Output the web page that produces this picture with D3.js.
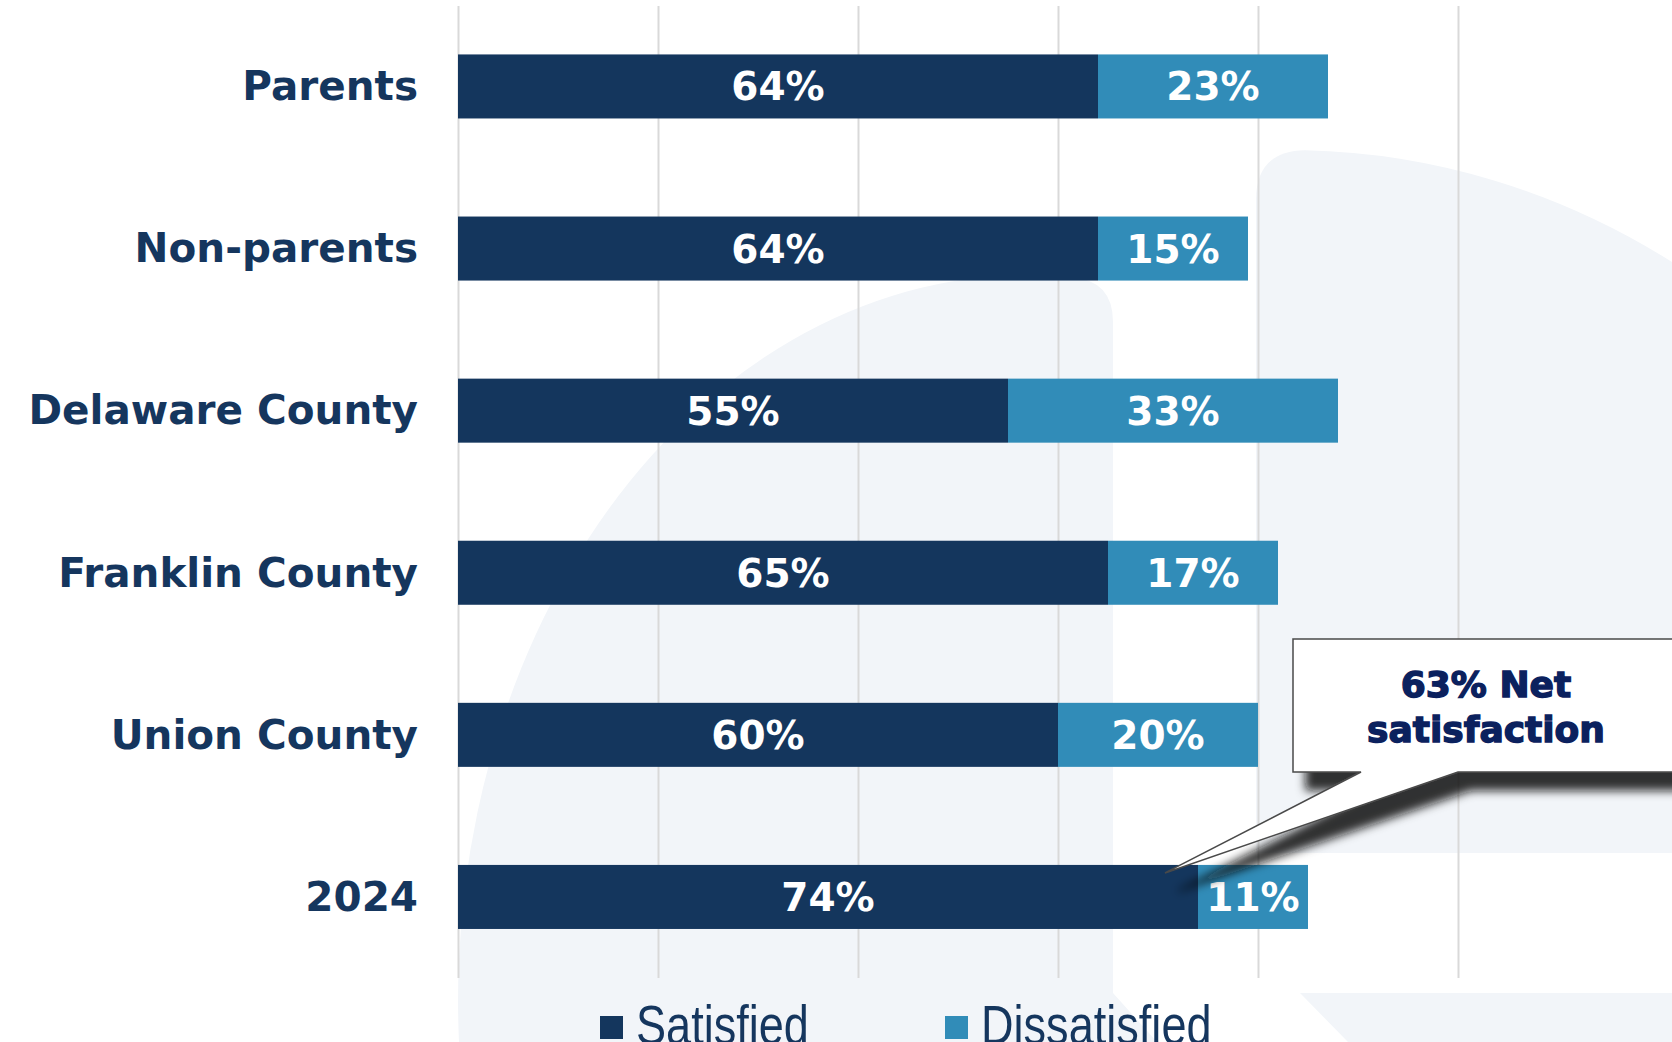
<!DOCTYPE html>
<html>
<head>
<meta charset="utf-8">
<script src="https://cdn.jsdelivr.net/npm/d3@7"></script>
<style>
  html, body { margin: 0; padding: 0; background: #ffffff; }
  svg { display: block; }
</style>
</head>
<body>
<div id="chart"></div>
<script>
// ---------- data ----------
const categories = ["Parents", "Non-parents", "Delaware County", "Franklin County", "Union County", "2024"];
const satisfied = [64, 64, 55, 65, 60, 74];
const dissatisfied = [23, 15, 33, 17, 20, 11];
const seriesNames = ["Satisfied", "Dissatisfied"];
const xTicks = [0, 20, 40, 60, 80, 100];
const calloutLines = ["63% Net", "satisfaction"];
const calloutTarget = { category: "2024", value: 70.7 };

// ---------- layout ----------
const W = 1672, H = 1042;
const colors = { Satisfied: "#14365D", Dissatisfied: "#318CB8" };
const labelColor = "#15365E";
const pale = "#F2F5F9";

const svg = d3.select("#chart").append("svg")
  .attr("width", W).attr("height", H)
  .attr("viewBox", `0 0 ${W} ${H}`);

const defs = svg.append("defs");
const f = defs.append("filter").attr("id", "shadow")
  .attr("x", "-20%").attr("y", "-20%").attr("width", "160%").attr("height", "180%");
f.append("feDropShadow").attr("dx", 13).attr("dy", 18).attr("stdDeviation", 5)
  .attr("flood-color", "#111").attr("flood-opacity", 0.85);

// ---------- background decoration ----------
const bg = svg.append("g");
bg.append("path").attr("fill", pale)
  .attr("d", "M459,1042 A570,725 0 0 1 1073,277.3 Q1113,281 1113,322 L1113,993 L1157,1042 Z");
bg.append("path").attr("fill", pale)
  .attr("d", "M1256,853 L1256,200 Q1256,151 1305,150.2 A770,850 0 0 1 1672,262 L1672,853 Z");
bg.append("path").attr("fill", pale)
  .attr("d", "M1300,993 L1672,993 L1672,1042 L1348,1042 Z");

// ---------- scales ----------
const x = d3.scaleLinear().domain([0, 100]).range([458, 1458]);
const y = d3.scaleBand().domain(categories).range([5.4, 978])
  .paddingInner(0.605).paddingOuter(0.3025);

// gridlines
const grid = svg.append("g").attr("transform", "translate(0,6)")
  .call(d3.axisTop(x).tickValues(xTicks).tickSize(-972).tickFormat(""));
grid.select(".domain").remove();
grid.selectAll(".tick line").attr("stroke", "#D9D9D9").attr("stroke-width", 2);

// category axis
const yAxis = svg.append("g").attr("transform", `translate(${x(0)},0)`)
  .call(d3.axisLeft(y).tickSize(0).tickPadding(40));
yAxis.select(".domain").remove();
yAxis.selectAll(".tick text")
  .attr("fill", labelColor)
  .attr("font-family", "'DejaVu Sans', sans-serif")
  .attr("font-weight", 700)
  .attr("font-size", "40.5px")
  .attr("dy", "0.34em");

// stacked bars
const rows = categories.map((c, i) => ({ category: c, Satisfied: satisfied[i], Dissatisfied: dissatisfied[i] }));
const stack = d3.stack().keys(seriesNames)(rows);

const layers = svg.append("g").selectAll("g").data(stack).join("g")
  .attr("fill", d => colors[d.key]);
layers.selectAll("rect").data(d => d).join("rect")
  .attr("x", d => x(d[0]))
  .attr("y", d => y(d.data.category))
  .attr("width", d => x(d[1]) - x(d[0]))
  .attr("height", y.bandwidth());

// value labels
const labels = svg.append("g");
stack.forEach(layer => {
  labels.selectAll(null).data(layer).join("text")
    .attr("x", d => (x(d[0]) + x(d[1])) / 2)
    .attr("y", d => y(d.data.category) + y.bandwidth() / 2)
    .attr("dy", "0.36em")
    .attr("text-anchor", "middle")
    .attr("fill", "#ffffff")
    .attr("font-family", "'DejaVu Sans', sans-serif")
    .attr("font-weight", 700)
    .attr("font-size", "39px")
    .text(d => (d[1] - d[0]) + "%");
});

// ---------- callout ----------
const tipX = x(calloutTarget.value);
const tipY = y(calloutTarget.category) + 8;
const boxL = x(83.5), boxT = 639, boxB = 772, boxR = W + 40;
const baseL = x(90.3), baseR = x(100);
const callout = svg.append("g");
callout.append("path")
  .attr("d", `M${boxL},${boxT} H${boxR} V${boxB} H${baseR} L${tipX},${tipY} L${baseL},${boxB} H${boxL} Z`)
  .attr("fill", "#ffffff")
  .attr("stroke", "#4a4a4a")
  .attr("stroke-width", 1.5)
  .attr("filter", "url(#shadow)");
callout.selectAll("text").data(calloutLines).join("text")
  .attr("x", 1486)
  .attr("y", (d, i) => 697 + i * 45)
  .attr("text-anchor", "middle")
  .attr("fill", "#0B215E")
  .attr("stroke", "#0B215E")
  .attr("stroke-width", 1.4)
  .attr("font-family", "'DejaVu Sans', sans-serif")
  .attr("font-weight", 700)
  .attr("font-size", "36px")
  .text(d => d);

// ---------- legend ----------
const legendPos = [600, 945];
const legend = svg.append("g").selectAll("g").data(seriesNames).join("g")
  .attr("transform", (d, i) => `translate(${legendPos[i]},1016)`);
legend.append("rect").attr("width", 23).attr("height", 23).attr("fill", d => colors[d]);
legend.append("g").attr("transform", "translate(36,28) scale(0.82,1)")
  .append("text")
  .attr("fill", labelColor)
  .attr("font-family", "'Liberation Sans', Arial, sans-serif")
  .attr("font-size", "55px")
  .text(d => d);
</script>
</body>
</html>
